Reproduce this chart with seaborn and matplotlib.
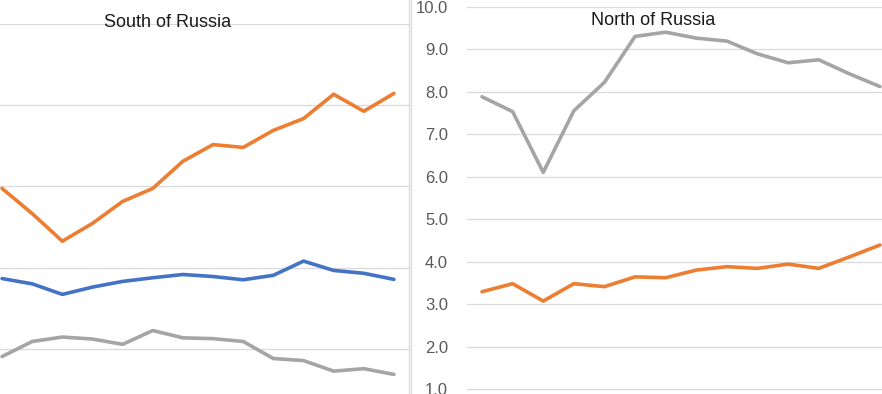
import matplotlib
matplotlib.use("Agg")
import matplotlib.pyplot as plt
from matplotlib.lines import Line2D
import seaborn as sns
import pandas as pd
import numpy as np

# ---- data ----
periods = list(range(14))  # category positions (x labels not visible in reference)

south_blue = [3.73, 3.60, 3.34, 3.52, 3.66, 3.75, 3.83, 3.78, 3.70, 3.81, 4.16, 3.93, 3.86, 3.71]
south_orange = [5.95, 5.33, 4.65, 5.09, 5.63, 5.95, 6.62, 7.03, 6.96, 7.38, 7.67, 8.27, 7.85, 8.29]
south_grey = [1.81, 2.18, 2.29, 2.24, 2.11, 2.45, 2.27, 2.25, 2.18, 1.76, 1.71, 1.45, 1.51, 1.37]

north_orange = [3.29, 3.48, 3.07, 3.48, 3.41, 3.64, 3.62, 3.80, 3.88, 3.84, 3.94, 3.84, 4.11, 4.39]
north_grey = [7.88, 7.53, 6.10, 7.55, 8.22, 9.30, 9.40, 9.26, 9.19, 8.89, 8.68, 8.75, 8.42, 8.12]

south_ticks = [0, 2, 4, 6, 8, 10]
north_ticks = [1, 2, 3, 4, 5, 6, 7, 8, 9, 10]

BLUE = "#4472C4"
ORANGE = "#ED7D31"
GREY = "#A5A5A5"
GRID = "#D9D9D9"

sns.set_theme(style="white")
plt.rcParams["font.family"] = ["Liberation Sans", "DejaVu Sans"]

W, H = 882, 394
fig = plt.figure(figsize=(W / 100, H / 100), dpi=100)

def px_axes(x0, x1, ytop, ybot):
    return fig.add_axes([x0 / W, 1 - ybot / H, (x1 - x0) / W, (ybot - ytop) / H])

axL = px_axes(-13, 409, 24, 430)
axR = px_axes(466.7, 895.3, 6.7, 431.5)

south_df = pd.DataFrame({"period": periods, "blue": south_blue,
                         "orange": south_orange, "grey": south_grey})
north_df = pd.DataFrame({"period": periods, "orange": north_orange, "grey": north_grey})

for col, c in [("blue", BLUE), ("orange", ORANGE), ("grey", GREY)]:
    sns.lineplot(data=south_df, x="period", y=col, ax=axL, color=c,
                 linewidth=2.6, solid_capstyle="round", solid_joinstyle="round", zorder=3)
for col, c in [("orange", ORANGE), ("grey", GREY)]:
    sns.lineplot(data=north_df, x="period", y=col, ax=axR, color=c,
                 linewidth=2.6, solid_capstyle="round", solid_joinstyle="round", zorder=3)

for ax, ticks in [(axL, south_ticks), (axR, north_ticks)]:
    ax.set_xlim(-0.5, 13.5)
    ax.set_ylim(0, 10)
    ax.set_yticks(ticks)
    ax.set_xticks([])
    ax.grid(axis="y", color=GRID, linewidth=0.9)
    ax.set_axisbelow(True)
    for s in ax.spines.values():
        s.set_visible(False)
    ax.set_xlabel("")
    ax.set_ylabel("")
    ax.patch.set_alpha(0)

axL.set_yticklabels([])
axL.tick_params(axis="y", length=0)
axR.set_yticklabels([f"{t:.1f}" for t in north_ticks])
axR.tick_params(axis="y", length=0, pad=13.5, labelsize=12, labelcolor="#595959")

# chart borders between the two panels
for xp in (408.5, 411.2):
    fig.add_artist(Line2D([xp / W, xp / W], [0, 1], transform=fig.transFigure,
                          color=GRID, linewidth=0.9))

fig.text(168 / W, 1 - 27.3 / H, "South of Russia", ha="center", va="baseline",
         fontsize=13, color="#1a1a1a")
fig.text(653.5 / W, 1 - 25 / H, "North of Russia", ha="center", va="baseline",
         fontsize=13, color="#1a1a1a")

fig.savefig("out.png", dpi=100)
